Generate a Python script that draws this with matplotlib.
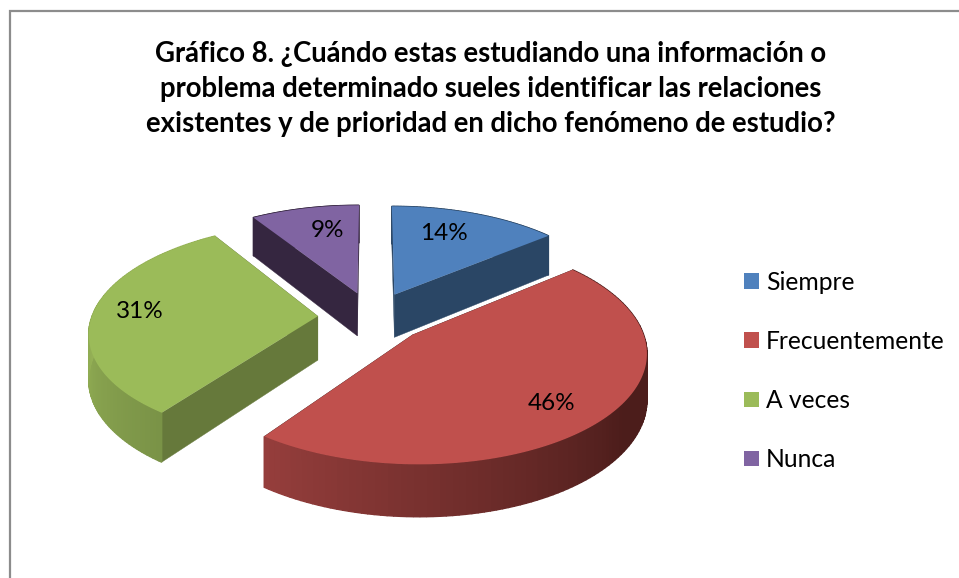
import numpy as np
import matplotlib
matplotlib.use("Agg")
import matplotlib.pyplot as plt
from matplotlib.colors import to_rgb
from matplotlib.patches import Patch, Rectangle

plt.rcParams["font.family"] = ["Lato", "DejaVu Sans"]

titulo = ("Gráfico 8. ¿Cuándo estas estudiando una información o\n"
          "problema determinado sueles identificar las relaciones\n"
          "existentes y de prioridad en dicho fenómeno de estudio?")
categorias = ["Siempre", "Frecuentemente", "A veces", "Nunca"]
valores = [14, 46, 31, 9]
colores = ["#4f81bd", "#c0504d", "#9bbb59", "#8064a2"]
color_corte = ["#2a4665", "#4c1d1b", "#66793b", "#352640"]
# rim colour at start / end of each slice, and the stretch of the slice where it changes
rim_ini = ["#2a4665", "#4c1d1b", "#7a9347", "#352640"]
rim_fin = ["#2a4665", "#953e3c", "#94b055", "#352640"]
rim_tramo = [(0, 1), (0.45, 1), (0, 0.5), (0, 1)]
pos_etiqueta = [0.7, 0.76, 0.81, 0.72]
ajuste_etiqueta = [(-9, -3), (-2, 6), (4, -2), (9, 0)]

# fake 3D camera, fitted by eye
CX, CY = 372, 317
R, K, P = 226, 0.47, 0.138
DEPTH = 44
EXPLODE = 0.24


def proj(X, Y, z=0):
    s = 1 / (1 + P * np.asarray(Y))
    return CX + R * np.asarray(X) * s, CY - R * K * np.asarray(Y) * s + z * DEPTH * s


fig = plt.figure(figsize=(9.59, 5.78), dpi=100)
ax = fig.add_axes([0, 0, 1, 1])
ax.set_xlim(0, 959)
ax.set_ylim(578, 0)
ax.axis("off")

ax.add_patch(Rectangle((10, 11), 960, 600, fc="white", ec="#8c8c8c", lw=1.6))

total = sum(valores)
bordes = np.cumsum([0] + valores) / total * 2 * np.pi
rebanadas = []
for i in range(len(valores)):
    t = np.linspace(bordes[i], bordes[i + 1], 120)
    mid = (bordes[i] + bordes[i + 1]) / 2
    ox, oy = EXPLODE * np.sin(mid), EXPLODE * np.cos(mid)
    rebanadas.append((i, t, mid, ox, oy))

# painter order, back slices first
for i, t, mid, ox, oy in sorted(rebanadas, key=lambda r: -r[4]):
    X = ox + np.sin(t)
    Y = oy + np.cos(t)
    # straight cut faces
    for j in (0, -1):
        px, py = proj([ox, X[j], X[j], ox], [oy, Y[j], Y[j], oy], np.array([0, 0, 1, 1]))
        ax.fill(px, py, color=color_corte[i], lw=0.3, zorder=2)
    # rim in thin strips so it can carry the gradient
    c0, c1 = np.array(to_rgb(rim_ini[i])), np.array(to_rgb(rim_fin[i]))
    for j in range(len(t) - 1):
        f = np.clip((j / (len(t) - 2) - rim_tramo[i][0]) / (rim_tramo[i][1] - rim_tramo[i][0]), 0, 1)
        a = np.array([X[j], X[j + 1], X[j + 1], X[j]])
        b = np.array([Y[j], Y[j + 1], Y[j + 1], Y[j]])
        px, py = proj(a, b, np.array([0, 0, 1, 1]))
        ax.fill(px, py, color=c0 + (c1 - c0) * f, lw=1.0, zorder=2)
    # top face
    px, py = proj(np.r_[ox, X], np.r_[oy, Y])
    ax.fill(px, py, color=colores[i], lw=0, zorder=2)
    lx, ly = proj(ox + pos_etiqueta[i] * np.sin(mid), oy + pos_etiqueta[i] * np.cos(mid))
    ax.text(lx + ajuste_etiqueta[i][0], ly + ajuste_etiqueta[i][1], f"{valores[i]}%", fontsize=17.5,
            ha="center", va="center", color="black", zorder=5)

ax.text(491, 89, titulo, fontsize=19.8, fontweight="bold", ha="center", va="center", linespacing=1.45)

marcas = [Patch(fc=c, ec="none") for c in colores]
ax.legend(marcas, categorias, loc="center left", bbox_to_anchor=(744 / 959, 1 - 371 / 578),
          frameon=False, fontsize=17.7, handlelength=0.61, handleheight=0.61, handletextpad=0.28,
          labelspacing=1.47, borderpad=0, borderaxespad=0, labelcolor="black")

fig.savefig("out.png", dpi=100)
